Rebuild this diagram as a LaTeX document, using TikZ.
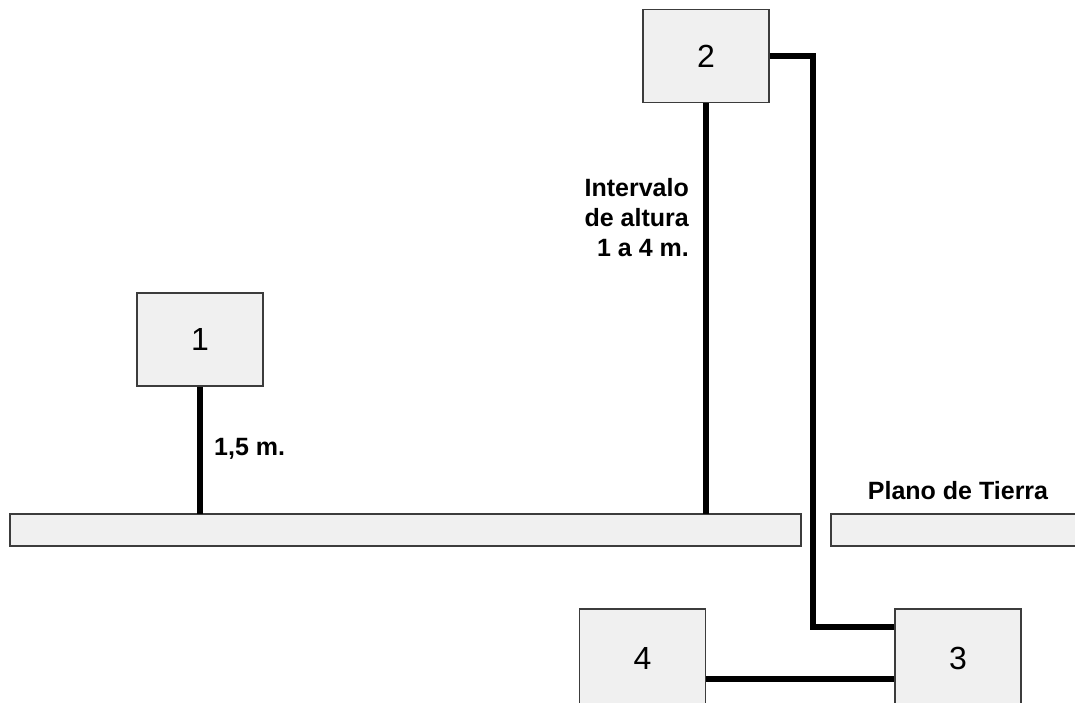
\documentclass[tikz,border=0pt]{standalone}
\usepackage{fontspec}
\setmainfont{Liberation Sans}
\usepackage{tikz}
\usetikzlibrary{calc}
\definecolor{boxfill}{HTML}{F0F0F0}
\definecolor{boxline}{HTML}{3C3C3C}
\tikzset{device/.style = {shape=rectangle,draw=boxline,line width=1.5pt,fill=boxfill,
    minimum width=126pt,minimum height=93pt,inner sep=0pt,font=\fontsize{32}{36}\selectfont}}
\tikzset{ground/.style = {draw=boxline,line width=1.5pt,fill=boxfill}}
\tikzset{cable/.style = {line width=5.5pt}}
\tikzset{label/.style = {font=\fontsize{25}{30}\selectfont\bfseries,inner sep=0pt}}

\begin{document}
\begin{tikzpicture}[x=1pt,y=-1pt]
            \clip (0,0) rectangle (1075,702);

            % Ground planes
            \draw[ground] (10,514) rectangle (801,546);
            \draw[ground] (831,514) rectangle (1095,546);
            \coordinate (gnd) at (0,514);

            % Devices
            \node[device] (one) at (200,339.5) {1};
            \node[device] (two) at (706,56) {2};
            \node[device,minimum height=98pt] (three) at (958,658) {3};
            \node[device,minimum height=98pt] (four) at (642.5,658) {4};

            % Labels
            \node[label,anchor=west] (h1) at (214,449) {1,5 m.};
            \node[label,anchor=east,align=right] (h2) at (689,218) {Intervalo\\de altura\\1 a 4 m.};
            \node[label] (plane) at (958,491) {Plano de Tierra};

            % Cables
            % masts
            \draw[cable] (one.south) -- (one.south |- gnd);
            \draw[cable] (two.south) -- (two.south |- gnd);

            % 2 to 3
            \coordinate (drop) at (813,56);
            \draw[cable] (two.east) -- (drop) |- ([yshift=31pt]three.west);

            % 4 to 3
            \draw[cable] ([yshift=-21pt]four.east) -- ([yshift=-21pt]three.west);

        \end{tikzpicture}
\end{document}
